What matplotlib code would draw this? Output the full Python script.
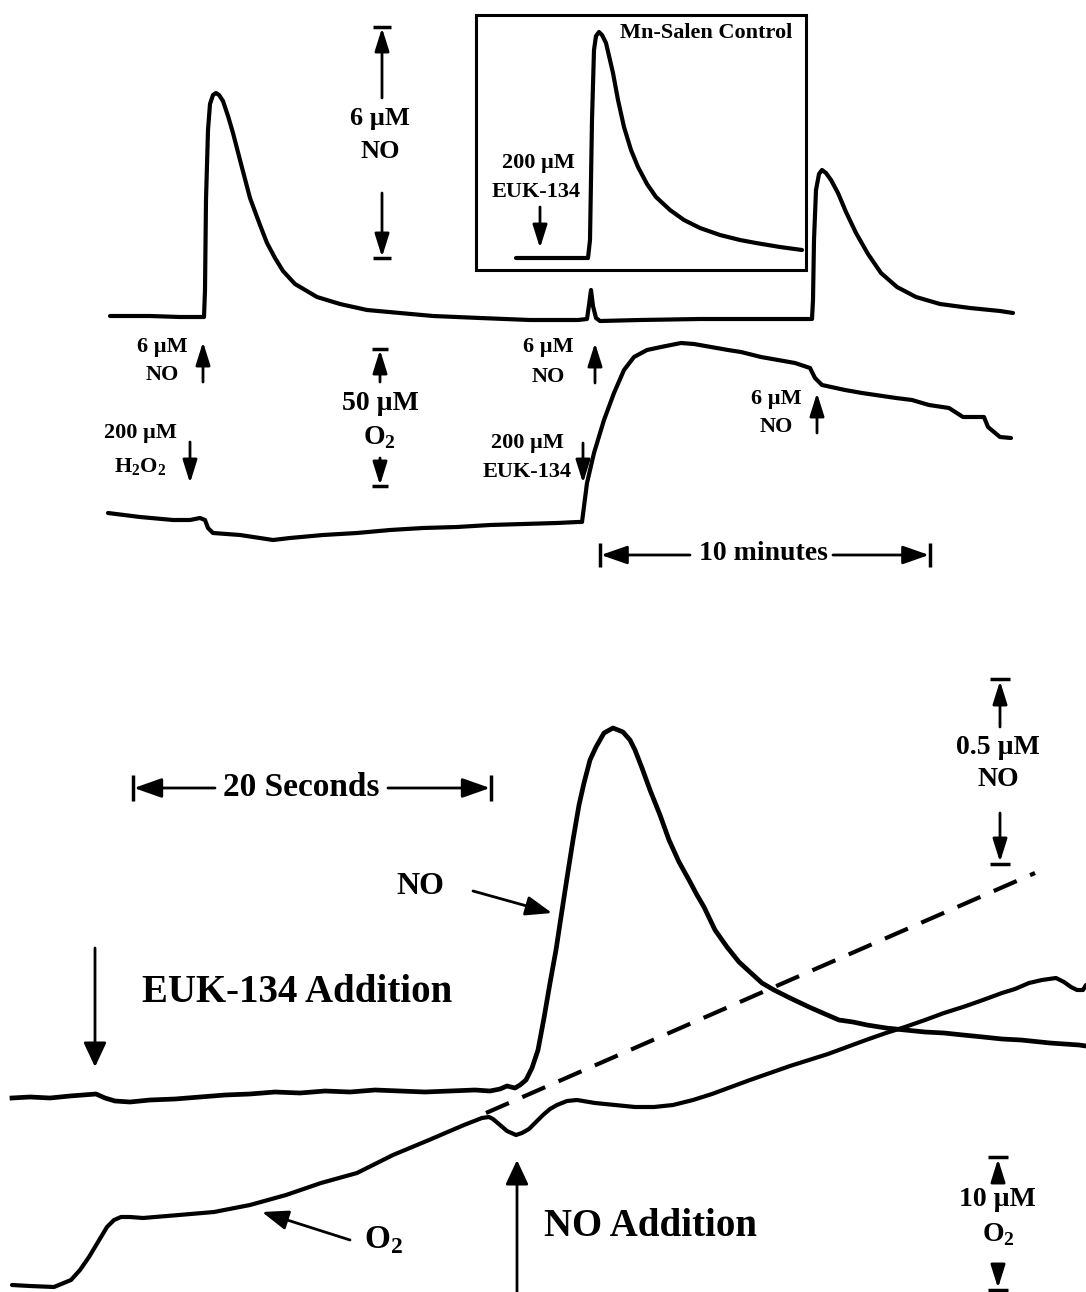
import matplotlib
matplotlib.use("Agg")
import matplotlib.pyplot as plt

plt.rcParams['font.family'] = ['Liberation Serif', 'DejaVu Serif']
plt.rcParams['font.weight'] = 'bold'
plt.rcParams['mathtext.fontset'] = 'custom'
plt.rcParams['mathtext.rm'] = 'Liberation Serif:bold'
plt.rcParams['mathtext.bf'] = 'Liberation Serif:bold'

# Traces (pixel coordinates of the original figure)
# upper panel, NO electrode
no_a_x = [110, 150, 180, 204, 205, 206, 208, 210, 213, 216, 219, 223, 228, 233, 240, 250, 260, 267, 275, 283,
          295, 317, 340, 367, 400, 433, 480, 530, 578, 587, 589, 591, 593, 596, 600, 640, 700, 760, 812, 813,
          814, 816, 819, 822, 826, 831, 838, 846, 856, 868, 881, 897, 916, 940, 970, 1000, 1013]
no_a_y = [316, 316, 317, 317, 290, 200, 130, 104, 95, 93, 95, 101, 116, 133, 160, 198, 225, 243, 258, 271,
          284, 297, 304, 310, 313, 316, 318, 320, 320, 319, 305, 290, 306, 318, 321, 320, 319, 319, 319, 300,
          240, 190, 174, 170, 173, 180, 193, 212, 233, 254, 273, 287, 297, 304, 308, 311, 313]

# Mn-Salen control inset
inset_x = [516, 540, 560, 588, 590, 592, 594, 596, 599, 602, 606, 613, 618, 624, 631, 638, 647, 656, 670, 684,
           700, 720, 740, 756, 780, 802]
inset_y = [258, 258, 258, 258, 240, 120, 50, 36, 32, 35, 43, 73, 100, 127, 150, 167, 184, 197, 210, 220,
           228, 235, 240, 243, 247, 250]

# upper panel, O2 electrode
o2_a_x = [108, 140, 173, 190, 200, 205, 208, 213, 240, 273, 290, 323, 357, 390, 423, 457, 490, 523, 557, 578,
          582, 587, 594, 604, 614, 624, 634, 647, 661, 681, 694, 711, 728, 741, 761, 778, 795, 810, 815, 822,
          845, 862, 896, 912, 929, 949, 963, 984, 988, 1000, 1011]
o2_a_y = [513, 517, 520, 520, 518, 520, 528, 533, 535, 540, 538, 535, 533, 530, 528, 527, 525, 524, 523, 522,
          522, 483, 453, 420, 393, 370, 357, 350, 347, 343, 344, 347, 350, 352, 357, 360, 363, 368, 378, 385,
          390, 393, 398, 400, 405, 408, 417, 417, 427, 437, 438]

# lower panel, NO electrode
no_b_x = [12, 30, 50, 70, 96, 105, 115, 130, 150, 175, 200, 225, 250, 275, 300, 325, 350, 375, 400, 425,
          450, 475, 490, 500, 507, 515, 520, 526, 532, 538, 544, 550, 556, 561, 567, 573, 579, 584, 590, 596,
          604, 613, 623, 630, 635, 642, 650, 660, 669, 679, 689, 697, 704, 715, 727, 739, 751, 762, 774, 790,
          809, 825, 839, 853, 867, 886, 905, 925, 944, 963, 983, 1002, 1021, 1050, 1079, 1086]
no_b_y = [1098, 1097, 1098, 1096, 1094, 1098, 1101, 1102, 1100, 1099, 1097, 1095, 1094, 1092, 1093, 1091, 1092, 1090, 1091, 1092,
          1091, 1090, 1091, 1089, 1086, 1088, 1085, 1080, 1068, 1050, 1018, 983, 950, 917, 878, 840, 805, 783, 760, 747,
          733, 728, 732, 740, 750, 768, 790, 815, 840, 862, 880, 895, 907, 930, 947, 962, 973, 983, 990, 998,
          1007, 1014, 1020, 1022, 1025, 1028, 1030, 1032, 1033, 1035, 1037, 1039, 1040, 1043, 1045, 1046]

# lower panel, O2 electrode
o2_b_x = [12, 30, 54, 71, 80, 89, 98, 107, 114, 121, 130, 143, 179, 214, 250, 286, 321, 357, 393, 429,
          464, 482, 489, 493, 500, 507, 516, 522, 529, 536, 543, 550, 557, 567, 577, 595, 615, 635, 654, 673,
          693, 712, 731, 750, 770, 790, 809, 828, 847, 866, 886, 905, 925, 944, 963, 983, 1002, 1015, 1029, 1042,
          1056, 1064, 1071, 1077, 1083, 1086]
o2_b_y = [1285, 1286, 1287, 1280, 1270, 1257, 1242, 1227, 1220, 1217, 1217, 1218, 1215, 1212, 1205, 1195, 1183, 1173, 1155, 1140,
          1125, 1118, 1117, 1119, 1125, 1131, 1135, 1133, 1129, 1122, 1115, 1109, 1105, 1101, 1100, 1103, 1105, 1107, 1107, 1105,
          1100, 1094, 1087, 1080, 1073, 1066, 1060, 1054, 1047, 1040, 1033, 1027, 1020, 1013, 1007, 1000, 993, 989, 983, 980,
          978, 982, 987, 990, 990, 985]

# extrapolated O2 slope (dashed)
dash_x = [486, 1035]
dash_y = [1113, 873]

fig = plt.figure(figsize=(10.86, 12.92), dpi=100)
ax = fig.add_axes([0, 0, 1, 1])
ax.set_xlim(0, 1086)
ax.set_ylim(1292, 0)
ax.axis('off')

TRACE = dict(color='k', lw=3.0, solid_joinstyle='round', solid_capstyle='round')


def arrow(x0, y0, x1, y1, hl=0.7, hw=0.22, lw=2.0, ms=20):
    ax.annotate('', xy=(x1, y1), xytext=(x0, y0),
                arrowprops=dict(arrowstyle=f'-|>,head_length={hl},head_width={hw}',
                                color='k', lw=lw, shrinkA=0, shrinkB=0, mutation_scale=ms))


def cap(x, y, w=18, vertical=False):
    if vertical:
        ax.plot([x, x], [y - w / 2, y + w / 2], color='k', lw=2.5, solid_capstyle='butt')
    else:
        ax.plot([x - w / 2, x + w / 2], [y, y], color='k', lw=2.5, solid_capstyle='butt')


def label(x, y, s, size):
    ax.text(x, y, s, ha='center', va='center', fontsize=size, fontweight='bold')


# ---- upper panel ----
ax.plot(no_a_x, no_a_y, **TRACE)
ax.plot(o2_a_x, o2_a_y, **TRACE)

# inset
ax.add_patch(plt.Rectangle((476, 15), 330, 255, fill=False, lw=2.2, ec='k'))
ax.plot(inset_x, inset_y, **TRACE)
label(706, 33, 'Mn-Salen Control', 16)
label(538, 163, '200 µM', 16)
label(536, 192, 'EUK-134', 16)
arrow(540, 207, 540, 248)

# 6 uM NO scale
arrow(382, 98, 382, 28)
cap(382, 27)
label(380, 118, '6 µM', 19)
label(380, 152, 'NO', 19)
arrow(382, 193, 382, 257)
cap(382, 258)

# 50 uM O2 scale
arrow(380, 382, 380, 350)
cap(380, 349, 16)
label(380, 403, '50 µM', 20)
label(379, 438, 'O$_\\mathbf{2}$', 20)
arrow(380, 458, 380, 485)
cap(380, 486, 16)

# additions
label(162, 347, '6 µM', 16)
label(162, 375, 'NO', 16)
arrow(203, 382, 203, 342)
label(140, 433, '200 µM', 16)
label(140, 467, 'H$_\\mathbf{2}$O$_\\mathbf{2}$', 16)
arrow(190, 442, 190, 483)

label(548, 347, '6 µM', 16)
label(548, 377, 'NO', 16)
arrow(595, 383, 595, 343)
label(527, 443, '200 µM', 16)
label(527, 472, 'EUK-134', 16)
arrow(583, 443, 583, 483)

label(776, 399, '6 µM', 16)
label(776, 427, 'NO', 16)
arrow(817, 433, 817, 393)

# 10 minutes bar
label(763, 553, '10 minutes', 20)
arrow(690, 555, 601, 555, hl=0.8, hw=0.28)
arrow(833, 555, 929, 555, hl=0.8, hw=0.28)
cap(600, 555, 24, vertical=True)
cap(930, 555, 24, vertical=True)

# ---- lower panel ----
ax.plot(no_b_x, no_b_y, color='k', lw=3.4, solid_joinstyle='round')
ax.plot(o2_b_x, o2_b_y, **TRACE)
ax.plot(dash_x, dash_y, color='k', lw=3.0, dashes=(6, 3.5))

# 20 seconds bar
label(301, 788, '20 Seconds', 24)
arrow(215, 788, 134, 788, hl=0.85, hw=0.3)
arrow(388, 788, 490, 788, hl=0.85, hw=0.3)
cap(133, 788, 26, vertical=True)
cap(491, 788, 26, vertical=True)

label(420, 887, 'NO', 23)
arrow(473, 891, 552, 913, hl=0.8, hw=0.3)

label(297, 993, 'EUK-134 Addition', 28)
arrow(95, 948, 95, 1067, hl=0.75, hw=0.35)

# 0.5 uM NO scale
arrow(1000, 727, 1000, 681)
cap(1000, 679, 20)
label(998, 747, '0.5 µM', 20)
label(998, 780, 'NO', 20)
arrow(1000, 813, 1000, 862)
cap(1000, 864, 20)

label(384, 1240, 'O$_\\mathbf{2}$', 24)
arrow(350, 1240, 262, 1212, hl=0.8, hw=0.3)

label(650, 1227, 'NO Addition', 28)
arrow(517, 1292, 517, 1160, hl=0.75, hw=0.35)

# 10 uM O2 scale
arrow(998, 1180, 998, 1159)
cap(998, 1157, 20)
label(997, 1200, '10 µM', 20)
label(998, 1235, 'O$_\\mathbf{2}$', 20)
arrow(998, 1270, 998, 1288)
cap(998, 1290, 20)

fig.savefig('out.png', dpi=100)
